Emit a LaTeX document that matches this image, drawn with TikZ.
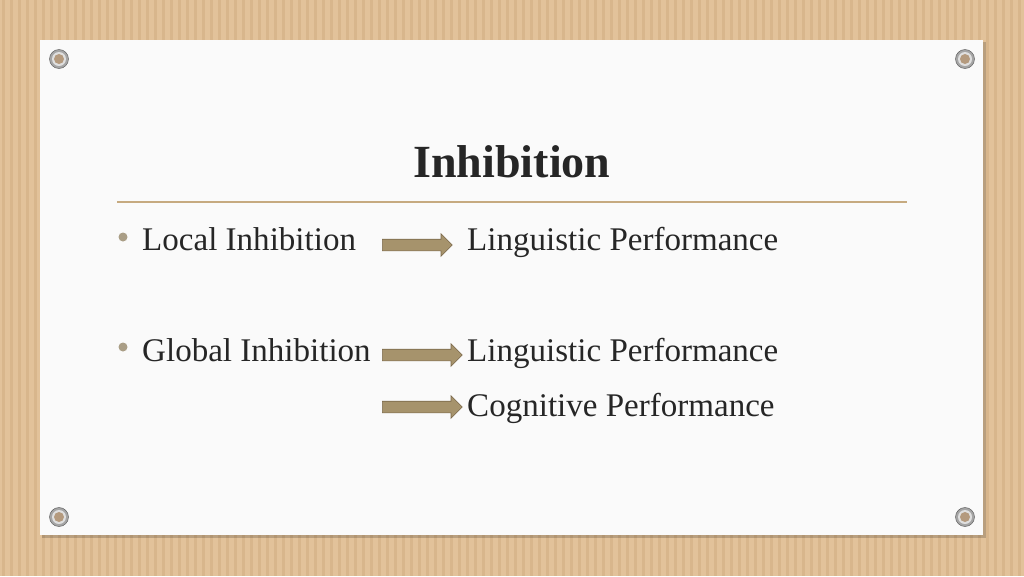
\documentclass[tikz,border=0pt]{standalone}
\usepackage{fontspec}
\setmainfont{Liberation Serif}
\usetikzlibrary{positioning, shapes.arrows}
\definecolor{wood}{RGB}{226,194,154}
\definecolor{woodline}{RGB}{216,182,140}
\definecolor{card}{RGB}{250,250,250}
\definecolor{rulecol}{RGB}{198,170,128}
\definecolor{arrowfill}{RGB}{166,147,108}
\definecolor{arrowdraw}{RGB}{122,104,74}
\definecolor{ink}{RGB}{38,38,38}
\definecolor{dotcol}{RGB}{170,158,134}
\definecolor{ringcol}{RGB}{165,165,165}
\definecolor{holecol}{RGB}{180,154,126}

\tikzset{
	body/.style={anchor=base west, text=ink, inner sep=0pt, font=\fontsize{28.2}{32}\selectfont},
	heading/.style={anchor=base, text=ink, inner sep=0pt, font=\fontsize{39.3}{44}\selectfont\bfseries},
	dotmark/.style={circle, fill=dotcol, inner sep=0pt, minimum size=9*0.03cm},
	blockarrow/.style={single arrow, draw=arrowdraw, fill=arrowfill, line width=0.5pt,
		anchor=tail, inner xsep=0pt, inner ysep=5.5*0.03cm, single arrow head extend=5.5*0.03cm,
		minimum width=22*0.03cm}
}

\begin{document}
\begin{tikzpicture}[x=0.03cm, y=-0.03cm]
			\useasboundingbox (0,0) rectangle (1024,576);
			\fill[wood] (0,0) rectangle (1024,576);
			\foreach \x in {2,10,...,1024}
				\fill[woodline] (\x,0) rectangle (\x+3,576);
			\fill[black, opacity=0.18] (42,42) rectangle (986,538);
			\fill[card] (40,40) rectangle (983,535);

			\foreach \gx/\gy in {59/59, 965/59, 59/517, 965/517} {
				\fill[ringcol, draw=gray!70!black, line width=0.4pt] (\gx,\gy) circle [radius=9.5*0.03cm];
				\fill[gray!25] (\gx,\gy) circle [radius=7*0.03cm];
				\fill[holecol] (\gx,\gy) circle [radius=5*0.03cm];
			}

			\node[heading] (title) at (512,177) {Inhibition};
			\draw[rulecol, line width=0.9pt] (117,202) -- (907,202);

			\node[dotmark] (dotA) at (123,237) {};
			\node[body] (local) at (142,250) {Local Inhibition};
			\node[blockarrow, minimum height=70*0.03cm] (arrA) at (382,245) {};
			\node[body] (lingA) at (467,250) {Linguistic Performance};

			\node[dotmark] (dotB) at (123,347) {};
			\node[body] (global) at (142,361) {Global Inhibition};
			\node[blockarrow, minimum height=80*0.03cm] (arrB) at (382,355) {};
			\node[body] (lingB) at (467,361) {Linguistic Performance};

			\node[blockarrow, minimum height=80*0.03cm] (arrC) at (382,407) {};
			\node[body] (cog) at (467,416) {Cognitive Performance};
		\end{tikzpicture}
\end{document}
